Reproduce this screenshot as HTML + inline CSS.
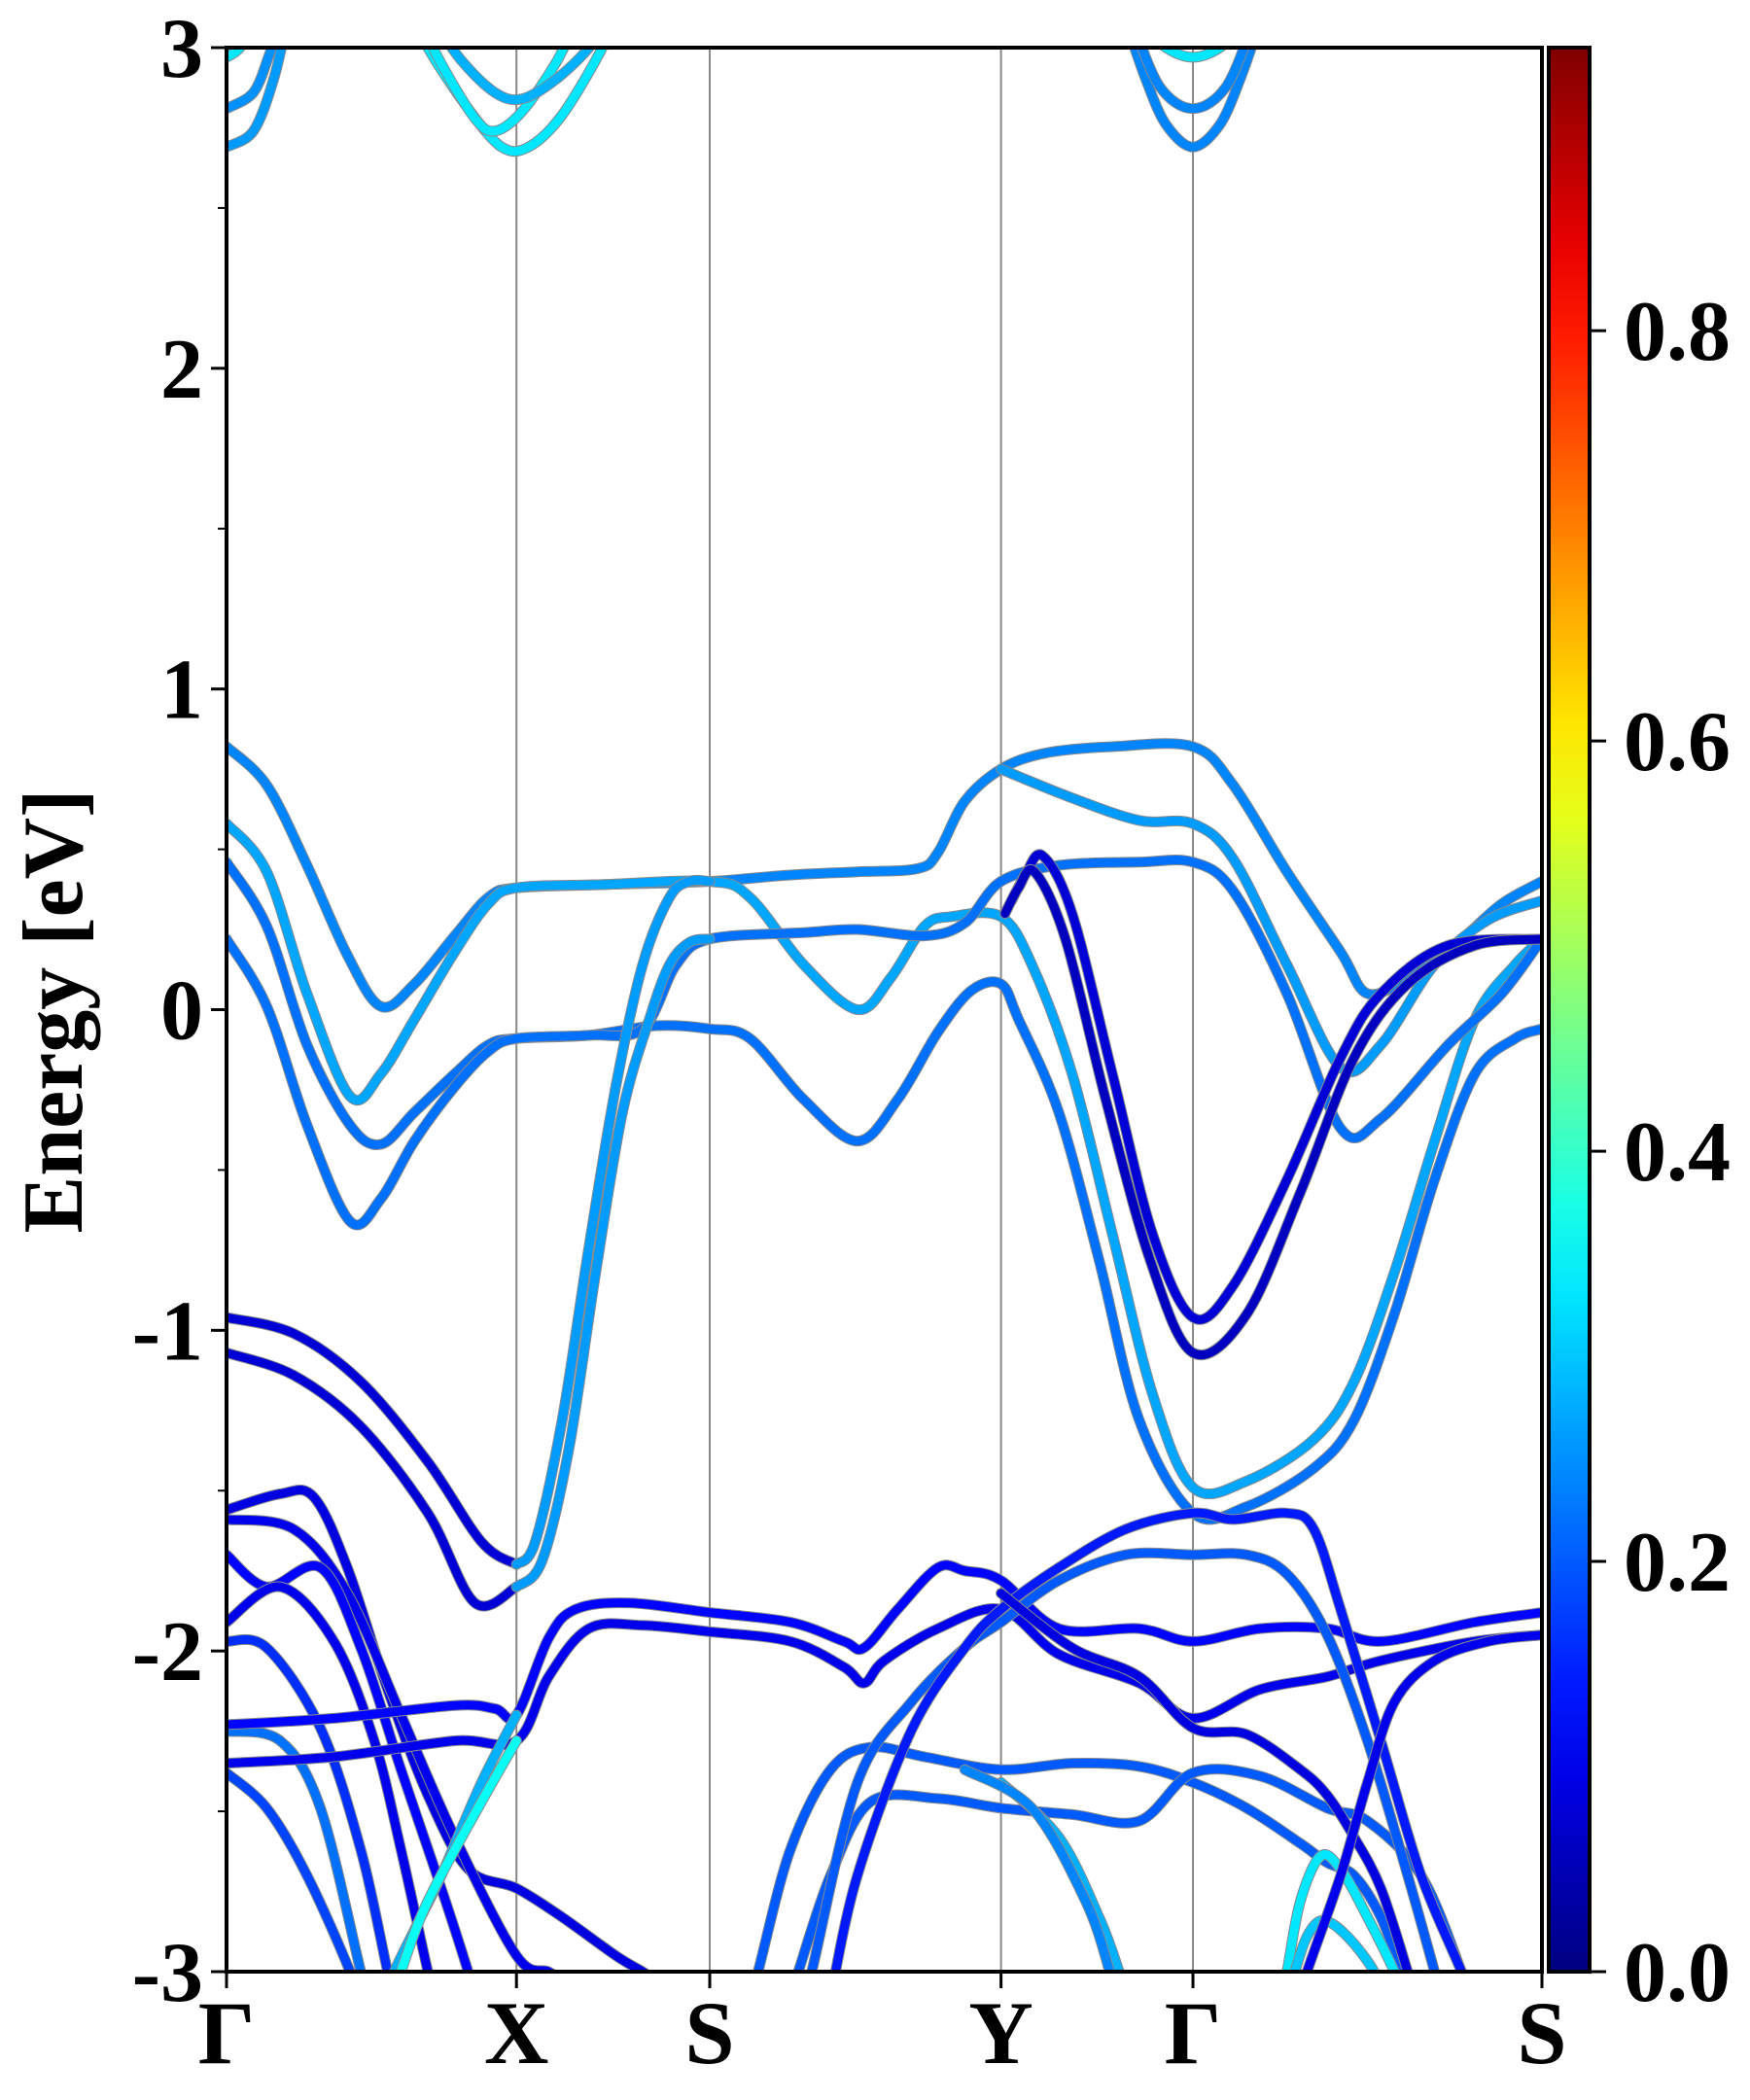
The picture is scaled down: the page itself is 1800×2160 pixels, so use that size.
<!DOCTYPE html>
<html><head><meta charset="utf-8"><style>
html,body{margin:0;padding:0;background:#fff;}
svg{display:block;}
text{font-family:"Liberation Serif",serif;font-weight:bold;fill:#000;}
</style></head><body>
<svg id="chart" xmlns="http://www.w3.org/2000/svg" width="1800" height="2160" viewBox="0 0 1800 2160">
<defs>
<clipPath id="plotclip"><rect x="233" y="49" width="1353" height="1979"/></clipPath>
<linearGradient id="jetgrad" x1="0" y1="1" x2="0" y2="0"></linearGradient>
</defs>
<g id="vlines"></g>
<g id="bands" clip-path="url(#plotclip)"></g>
<rect x="233" y="49" width="1353" height="1979" fill="none" stroke="#000" stroke-width="4"/>
<g id="yaxis"></g>
<g id="xaxis"></g>
<text x="0" y="0" font-size="88" text-anchor="middle" transform="translate(84,1040) rotate(-90)">Energy [eV]</text>
<g id="cbar"></g>
</svg>
<script>
const kLabels=["Γ","X","S","Y","Γ","S"];
const kPos=[0,2.16,3.60,5.77,7.20,9.80];
const yTicks=[-3,-2,-1,0,1,2,3];
const yTickLabels=["-3","-2","-1","0","1","2","3"];
const cbTicks=[0,0.2,0.4,0.6,0.8];
const cbTickLabels=["0.0","0.2","0.4","0.6","0.8"];
const cbMax=0.938;
const bandW=[0.24,0.27,0.22,0.22,0.26,0.08,0.06,0.08,0.26,0.08,0.26,
0.09,0.1,0.12,0.1,0.16,0.22,0.18,0.12,0.1,0.28,0.36,
0.2,0.2,0.2,0.14,0.09,0.28,0.24,0.33,0.3,0.1,
0.26,0.25,0.33,0.33,0.33,0.28,0.24,0.24,0.33];
const bandK=[
[0,.3,.6,.9,1.15,1.4,1.7,1.95,2.16,2.8,3.6,4.2,4.7,5.15,5.3,5.5,5.77,6.1,6.6,7.2,7.5,7.9,8.3,8.5,8.8,9.2,9.5,9.8],
[0,.3,.6,.92,1.15,1.4,1.7,1.95,2.16,2.8,3.6,3.9,4.3,4.7,4.95,5.2,5.4,5.77,6.0,6.3,6.6,6.9,7.2,7.6,8.1,8.4,8.7,9.0,9.3,9.6,9.8],
[0,.3,.6,.92,1.15,1.4,1.7,1.95,2.16,2.7,3.2,3.6,3.9,4.3,4.7,5.0,5.3,5.55,5.77,5.9,6.2,6.5,6.8,7.2,7.6,8.1,8.4,8.7,9.0,9.3,9.6,9.8],
[0,.3,.6,.92,1.15,1.4,1.7,1.95,2.16,2.7,3.1,3.35,3.6,4.3,4.7,5.2,5.5,5.77,6.2,6.8,7.2,7.5,7.9,8.3,8.6,9.1,9.5,9.8],
[5.77,6.3,6.8,7.2,7.5,7.9,8.3,8.6,9.0,9.4,9.8],
[5.85,5.95,6.08,6.3,6.6,6.9,7.2,7.5,7.9,8.3,8.6,9.1,9.8],
[5.8,5.9,6.02,6.25,6.55,6.88,7.2,7.6,8.0,8.4,8.8,9.3,9.8],
[0,.5,1.0,1.5,1.9,2.16],
[2.16,2.3,2.5,2.7,2.9,3.1,3.3,3.45,3.6],
[0,.5,1.0,1.5,1.85,2.16],
[2.16,2.35,2.55,2.75,2.95,3.15,3.3,3.45,3.6],
[0,.4,.65,.9,1.2,1.5,1.8,2.16,2.5,2.9,3.1,3.2],
[0,.5,.9,1.3,1.7,2.16,2.4,2.5],
[0,.3,.7,1.0,1.3,1.6,1.8,1.85],
[0,.4,.8,1.1,1.3,1.5,1.55],
[0,.3,.7,1.0,1.2,1.25],
[0,.4,.7,1.0,1.05],
[0,.3,.6,.92,.96],
[0,.8,1.7,2.0,2.16,2.4,2.6,3.0,3.6,4.2,4.6,4.75,5.0,5.3,5.5,5.77,6.2,6.8,7.2,7.7,8.2,8.6,9.3,9.8],
[0,.8,1.7,2.16,2.4,2.7,3.1,3.6,4.2,4.6,4.75,4.9,5.3,5.77,6.2,6.8,7.2,7.7,8.2,8.6,9.3,9.8],
[2.16,1.9,1.6,1.4,1.25,1.2],
[2.16,1.9,1.5,1.3,1.25],
[3.9,3.96,4.2,4.5,4.8,5.2,5.77,6.3,6.8,7.2,7.6,8.0,8.2,8.4,8.6,8.75,8.8],
[4.2,4.26,4.5,4.8,5.3,5.77,6.3,6.8,7.2,7.7,8.2,8.5,8.9,9.2,9.25],
[4.3,4.36,4.7,5.1,5.5,5.77,6.2,6.7,7.2,7.6,7.9,8.2,8.5,8.8,9.0,9.05],
[4.5,4.7,5.1,5.5,5.77,6.2,6.7,7.2,7.5,7.9,8.1,8.3,8.6,8.9,9.2,9.25],
[5.77,6.3,6.8,7.2,7.6,8.0,8.2,8.4,8.6,8.8,8.85],
[5.77,6.2,6.5,6.65,6.7],
[5.5,6.0,6.4,6.58,6.62],
[7.85,7.9,8.0,8.15,8.3,8.5,8.7,8.75],
[7.92,7.96,8.05,8.17,8.35,8.55,8.6],
[8.0,8.05,8.3,8.5,8.7,9.0,9.4,9.8],
[0,.2,.35,.45],
[0,.2,.32,.4],
[0,.1,.2],
[1.45,1.5,1.8,2.05,2.25,2.5,2.8,2.85],
[1.45,1.6,1.85,2.0,2.2,2.45,2.6],
[1.55,1.75,2.0,2.2,2.45,2.7,2.8],
[6.7,6.85,7.0,7.2,7.4,7.55,7.7],
[6.75,6.95,7.2,7.45,7.65],
[6.8,7.0,7.2,7.4,7.6]
];
const bandE=[
[.82,.70,.45,.17,.01,.08,.23,.35,.38,.39,.40,.42,.43,.44,.49,.65,.75,.80,.82,.82,.70,.43,.18,.05,.10,.22,.33,.40],
[.58,.43,.05,-.27,-.20,-.03,.18,.33,.38,.39,.40,.35,.14,.00,.10,.26,.29,.29,.14,-.20,-.70,-1.20,-1.49,-1.47,-1.34,-1.16,-.82,-.41,-.03,.14,.22],
[.46,.26,-.11,-.36,-.42,-.32,-.20,-.11,-.09,-.08,-.05,-.06,-.09,-.28,-.41,-.28,-.07,.06,.08,-.03,-.32,-.78,-1.28,-1.57,-1.55,-1.43,-1.28,-.95,-.53,-.20,-.09,-.06],
[.22,.01,-.36,-.66,-.59,-.41,-.24,-.13,-.09,-.08,-.06,.14,.22,.24,.25,.23,.27,.40,.45,.46,.46,.37,.05,-.37,-.34,-.11,.05,.22],
[.75,.66,.59,.58,.47,.14,-.18,-.11,.14,.28,.34],
[.34,.42,.48,.30,-.20,-.70,-.96,-.86,-.53,-.15,.05,.20,.22],
[.30,.38,.43,.22,-.28,-.78,-1.07,-.95,-.57,-.15,.08,.20,.22],
[-.96,-1.01,-1.16,-1.41,-1.66,-1.73],
[-1.73,-1.66,-1.28,-.74,-.24,.14,.35,.40,.40],
[-1.07,-1.14,-1.30,-1.57,-1.85,-1.80],
[-1.80,-1.72,-1.37,-.82,-.32,-.03,.14,.21,.22],
[-1.56,-1.51,-1.52,-1.74,-2.12,-2.45,-2.68,-2.74,-2.83,-2.95,-3.0,-3.03],
[-1.59,-1.62,-1.82,-2.20,-2.58,-2.95,-3.0,-3.03],
[-1.70,-1.80,-1.74,-1.99,-2.37,-2.74,-3.0,-3.08],
[-1.91,-1.80,-1.97,-2.28,-2.62,-3.0,-3.08],
[-1.97,-1.99,-2.24,-2.62,-3.0,-3.08],
[-2.25,-2.28,-2.49,-3.0,-3.08],
[-2.38,-2.49,-2.70,-3.0,-3.08],
[-2.23,-2.21,-2.17,-2.18,-2.20,-1.96,-1.87,-1.85,-1.88,-1.91,-1.97,-1.99,-1.87,-1.74,-1.75,-1.78,-1.93,-1.93,-1.97,-1.93,-1.93,-1.97,-1.91,-1.88],
[-2.35,-2.33,-2.28,-2.28,-2.08,-1.93,-1.92,-1.94,-1.97,-2.05,-2.10,-2.03,-1.93,-1.87,-2.01,-2.10,-2.21,-2.12,-2.08,-2.03,-1.97,-1.95],
[-2.20,-2.41,-2.70,-2.87,-3.0,-3.08],
[-2.28,-2.47,-2.78,-3.0,-3.08],
[-3.08,-3.0,-2.62,-2.37,-2.30,-2.33,-2.37,-2.35,-2.36,-2.41,-2.49,-2.60,-2.66,-2.70,-2.83,-3.0,-3.08],
[-3.08,-3.0,-2.70,-2.47,-2.46,-2.49,-2.51,-2.53,-2.38,-2.39,-2.49,-2.53,-2.70,-3.0,-3.08],
[-3.08,-3.0,-2.41,-2.16,-1.99,-1.91,-1.78,-1.70,-1.70,-1.70,-1.76,-1.95,-2.28,-2.70,-3.0,-3.08],
[-3.08,-2.70,-2.25,-1.99,-1.87,-1.74,-1.62,-1.57,-1.59,-1.57,-1.62,-1.87,-2.28,-2.70,-3.0,-3.08],
[-1.82,-1.99,-2.08,-2.24,-2.26,-2.37,-2.45,-2.58,-2.74,-3.0,-3.08],
[-2.41,-2.58,-2.83,-3.0,-3.08],
[-2.37,-2.49,-2.78,-3.0,-3.08],
[-3.08,-3.0,-2.78,-2.64,-2.68,-2.83,-3.0,-3.08],
[-3.08,-3.0,-2.89,-2.84,-2.89,-3.0,-3.08],
[-3.08,-3.0,-2.70,-2.41,-2.16,-2.03,-1.97,-1.95],
[2.69,2.74,2.9,3.08],
[2.81,2.86,2.98,3.08],
[2.97,3.0,3.08],
[3.08,3.0,2.81,2.69,2.69,2.79,3.0,3.08],
[3.08,2.95,2.78,2.74,2.8,2.95,3.08],
[3.08,2.96,2.86,2.84,2.9,3.0,3.08],
[3.08,2.9,2.76,2.69,2.76,2.9,3.08],
[3.08,2.88,2.81,2.88,3.08],
[3.08,3.0,2.97,3.0,3.08]
];
const NS="http://www.w3.org/2000/svg";
const X0=233,X1=1586,Y0=49,Y1=2028,KMAX=9.8,EMIN=-3,EMAX=3;
function xS(k){return X0+k/KMAX*(X1-X0);}
function yS(e){return Y1-(e-EMIN)/(EMAX-EMIN)*(Y1-Y0);}
function jet(t){t=Math.max(0,Math.min(1,t));
 const cl=v=>Math.max(0,Math.min(1,v));
 const r=cl(1.5-Math.abs(4*t-3)),g=cl(1.5-Math.abs(4*t-2)),b=cl(1.5-Math.abs(4*t-1));
 return "rgb("+Math.round(r*255)+","+Math.round(g*255)+","+Math.round(b*255)+")";}
function mk(tag,attrs,parent){const el=document.createElementNS(NS,tag);for(const a in attrs)el.setAttribute(a,attrs[a]);parent.appendChild(el);return el;}
function crPath(px,py){let d="M"+px[0].toFixed(1)+","+py[0].toFixed(1);
 for(let i=0;i<px.length-1;i++){const i0=Math.max(0,i-1),i3=Math.min(px.length-1,i+2);
  const c1x=px[i]+(px[i+1]-px[i0])/6,c1y=py[i]+(py[i+1]-py[i0])/6;
  const c2x=px[i+1]-(px[i3]-px[i])/6,c2y=py[i+1]-(py[i3]-py[i])/6;
  d+=" C"+c1x.toFixed(1)+","+c1y.toFixed(1)+" "+c2x.toFixed(1)+","+c2y.toFixed(1)+" "+px[i+1].toFixed(1)+","+py[i+1].toFixed(1);}
 return d;}
const vl=document.getElementById("vlines");
for(let i=1;i<kPos.length-1;i++){
 const l=mk("line",{x1:xS(kPos[i]),x2:xS(kPos[i]),y1:Y0,y2:Y1,stroke:"#888",'stroke-width':2},vl);
 
 
}
const bg=document.getElementById("bands");
for(let b=0;b<bandK.length;b++){
 const px=bandK[b].map(xS),py=bandE[b].map(yS);const d=crPath(px,py);
 const g=mk("g",{},bg);
 
 
 mk("path",{d:d,fill:"none",stroke:"#8a8a8a",'stroke-width':11,'stroke-linecap':"round",'stroke-linejoin':"round"},g);
 mk("path",{d:d,fill:"none",stroke:jet(bandW[b]/cbMax),'stroke-width':9,'stroke-linecap':"round",'stroke-linejoin':"round"},g);
}
const ya=document.getElementById("yaxis");
for(let i=0;i<yTicks.length;i++){
 const y=yS(yTicks[i]);
 const t=mk("line",{x1:X0-16,x2:X0,y1:y,y2:y,stroke:"#000",'stroke-width':3},ya);
 
 
 const tx=mk("text",{x:X0-24,y:y+30,'font-size':88,'text-anchor':"end"},ya);
 
 
 tx.textContent=yTickLabels[i];
 if(i<yTicks.length-1){const ym=yS(yTicks[i]+0.5);
  const m=mk("line",{x1:X0-9,x2:X0,y1:ym,y2:ym,stroke:"#000",'stroke-width':2},ya);
  
  }
}
const xa=document.getElementById("xaxis");
for(let i=0;i<kPos.length;i++){
 const x=xS(kPos[i]);
 const t=mk("line",{x1:x,x2:x,y1:Y1,y2:Y1+17,stroke:"#000",'stroke-width':3},xa);
 
 
 const tx=mk("text",{x:x,y:2122,'font-size':92,'text-anchor':"middle"},xa);
 
 
 tx.textContent=kLabels[i];
}
const grad=document.getElementById("jetgrad");
for(let i=0;i<=20;i++){mk("stop",{offset:(i/20),'stop-color':jet(i/20)},grad);}
const cb=document.getElementById("cbar");
const CBX=1593,CBW=42;
const r=mk("rect",{x:CBX,y:Y0,width:CBW,height:Y1-Y0,fill:"url(#jetgrad)",stroke:"#000",'stroke-width':4},cb);


function cbY(v){return Y1-v/cbMax*(Y1-Y0);}
for(let i=0;i<cbTicks.length;i++){
 const y=cbY(cbTicks[i]);
 const t=mk("line",{x1:CBX+CBW,x2:CBX+CBW+17,y1:y,y2:y,stroke:"#000",'stroke-width':3},cb);
 
 
 const tx=mk("text",{x:1670,y:y+30,'font-size':88},cb);
 
 
 tx.textContent=cbTickLabels[i];
}
</script>
</body></html>
